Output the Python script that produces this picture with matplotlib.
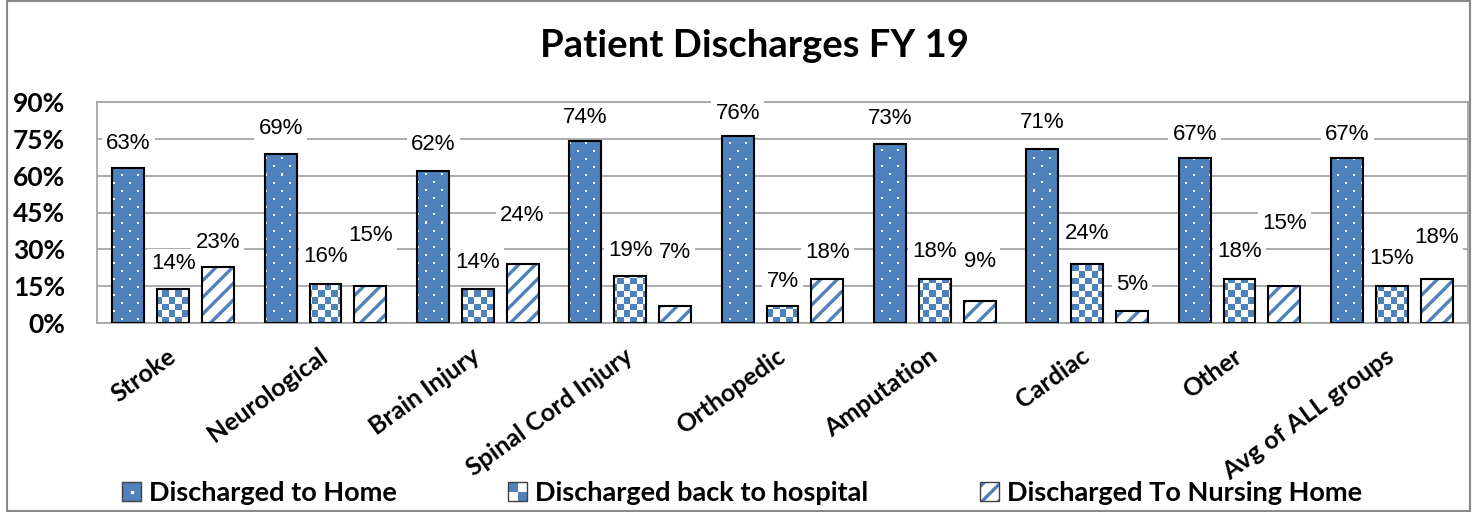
import numpy as np
import matplotlib
matplotlib.use("Agg")
import matplotlib.pyplot as plt
from matplotlib.patches import Patch, Rectangle
from matplotlib.lines import Line2D
from matplotlib.colors import ListedColormap
from matplotlib.legend_handler import HandlerBase

categories = ["Stroke", "Neurological", "Brain Injury", "Spinal Cord Injury",
              "Orthopedic", "Amputation", "Cardiac", "Other", "Avg of ALL groups"]
home = [63, 69, 62, 74, 76, 73, 71, 67, 67]
hospital = [14, 16, 14, 19, 7, 18, 24, 18, 15]
nursing = [23, 15, 24, 7, 18, 9, 5, 15, 18]
series_names = ["Discharged to Home", "Discharged back to hospital",
                "Discharged To Nursing Home"]
y_ticks = [0, 15, 30, 45, 60, 75, 90]

# how far each data label sits above its bar, in pixels
home_lift = [25, 25, 26, 24, 23, 25, 26, 24, 24]
hosp_lift = [25, 27, 26, 26, 24, 27, 31, 27, 28]
nurs_lift = [24, 51, 49, 53, 26, 39, 26, 63, 41]

blue = "#4f81bd"
grid_gray = "#a6a6a6"
bold_font = "Lato"
label_font = "Liberation Sans"
plt.rcParams["hatch.linewidth"] = 2.4

fig = plt.figure(figsize=(14.76, 5.12), dpi=100)
ax = fig.add_axes([97 / 1476, 1 - 323 / 512, 1371 / 1476, 221 / 512])
W, H = 1371, 221  # axes size in pixels, used for the fill textures

x = np.arange(len(categories))
step = 0.294
w = 0.21
ext = (-0.5, len(categories) - 0.5, 0, 90)

# textures
rr, cc = np.mgrid[0:H, 0:W]
shift = (rr // 8) % 2 * 8
dots = (((rr % 8) < 2) & (((cc + shift) % 16) < 2)).astype(int)
checker = ((rr // 6.5).astype(int) + (cc // 6.5).astype(int)) % 2


def textured_bars(xpos, vals, tex, cmap):
    base = ax.bar(xpos, vals, w, color="white", lw=0, zorder=2)
    for p in base.patches:
        im = ax.imshow(tex, cmap=cmap, extent=ext, aspect="auto",
                       interpolation="nearest", zorder=2.5)
        im.set_clip_path(p)
    ax.bar(xpos, vals, w, fill=False, edgecolor="black", lw=1.5, zorder=3)


# home: blue with white dots
textured_bars(x - step, home, dots, ListedColormap([blue, "white"]))
# hospital: blue/white checkerboard
textured_bars(x, hospital, checker, ListedColormap(["white", blue]))
# nursing home: white with blue diagonal stripes
ax.bar(x + step, nursing, w, color="white", edgecolor=blue, lw=0, hatch="//", zorder=2)
ax.bar(x + step, nursing, w, fill=False, edgecolor="black", lw=1.5, zorder=3)

# data labels with white boxes
for offs, vals, lifts in [(-step, home, home_lift), (step, nursing, nurs_lift),
                          (0, hospital, hosp_lift)]:
    for xi, v, lift in zip(x, vals, lifts):
        ax.annotate(f"{v}%", xy=(xi + offs, v), xytext=(0, lift * 0.72),
                    textcoords="offset points", ha="center", va="center",
                    fontsize=16, family=label_font, zorder=5,
                    bbox=dict(facecolor="white", edgecolor="none", pad=3))

ax.set_xlim(ext[0], ext[1])
ax.set_ylim(0, 90)
ax.set_yticks(y_ticks)
ax.set_yticklabels([f"{t}%" for t in y_ticks], family=bold_font,
                   fontweight="bold", fontsize=19)
ax.set_xticks(x)
ax.set_xticklabels(categories, rotation=36, ha="right", va="center",
                   rotation_mode="anchor", family=bold_font,
                   fontweight="bold", fontsize=18)
ax.tick_params(axis="y", length=0, pad=23)
ax.tick_params(axis="x", length=0, pad=22)
ax.yaxis.grid(True, color=grid_gray, lw=1.3)
ax.set_axisbelow(True)
for s in ax.spines.values():
    s.set_color(grid_gray)
    s.set_linewidth(1.3)

fig.text(755 / 1476, 1 - 57 / 512, "Patient Discharges FY 19", ha="center",
         va="baseline", family=bold_font, fontweight="bold", fontsize=27.5)


class CheckerHandler(HandlerBase):
    def create_artists(self, legend, orig_handle, xdescent, ydescent,
                       width, height, fontsize, trans):
        s = min(width, height)
        x0 = -xdescent + (width - s) / 2
        y0 = -ydescent + (height - s) / 2
        arts = []
        for i in range(2):
            for j in range(2):
                fc = blue if (i + j) % 2 == 1 else "white"
                arts.append(Rectangle((x0 + i * s / 2, y0 + j * s / 2), s / 2, s / 2,
                                      fc=fc, ec="none", transform=trans))
        arts.append(Rectangle((x0, y0), s, s, fill=False, ec="#404040", lw=1,
                              transform=trans))
        return arts


h_home = (Patch(facecolor=blue, edgecolor="#404040", lw=1),
          Line2D([], [], marker="s", ms=2, color="white", ls=""))
h_hosp = Patch()
h_nurs = (Patch(facecolor="white", edgecolor=blue, lw=0, hatch="//"),
          Patch(fill=False, edgecolor="#404040", lw=1))
fig.legend([h_home, h_hosp, h_nurs], series_names, loc="center",
           bbox_to_anchor=(742 / 1476, 1 - 493 / 512), ncol=3, frameon=False,
           prop=dict(family=bold_font, weight="bold", size=19.5),
           handlelength=0.7, handleheight=0.7, handletextpad=0.3,
           columnspacing=4.1, handler_map={h_hosp: CheckerHandler()})

fig.add_artist(Rectangle((7 / 1476, 1 / 512), 1463 / 1476, 510 / 512,
                         transform=fig.transFigure, fill=False,
                         edgecolor="#898989", lw=1.5))

fig.savefig("out.png", dpi=100)
